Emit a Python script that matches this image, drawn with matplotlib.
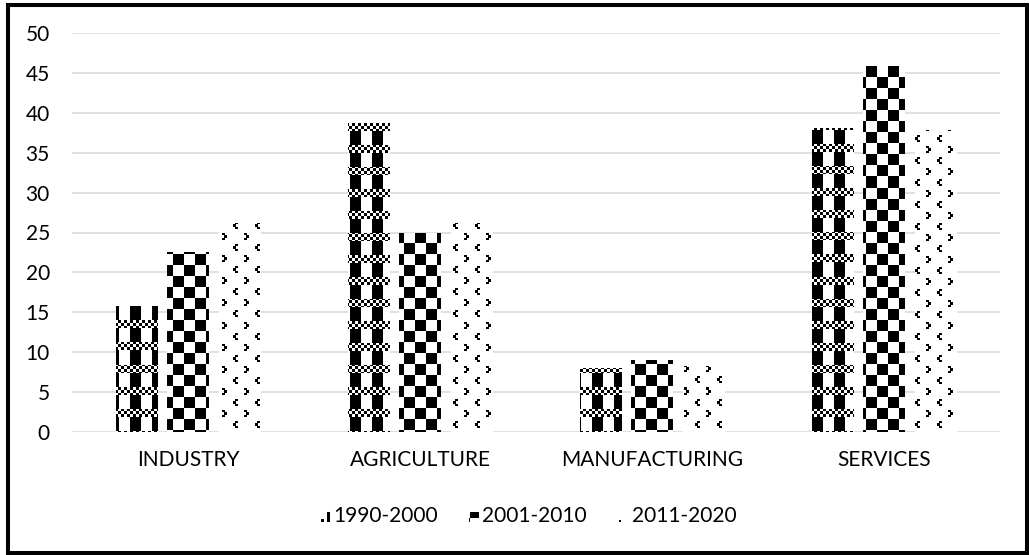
import numpy as np
import matplotlib
matplotlib.use('Agg')
import matplotlib.pyplot as plt
from matplotlib.patches import Rectangle

categories = ['INDUSTRY', 'AGRICULTURE', 'MANUFACTURING', 'SERVICES']
periods = ['1990-2000', '2001-2010', '2011-2020']
v1990 = [15.8, 38.7, 8.0, 38.1]
v2001 = [22.5, 25.0, 9.0, 45.9]
v2011 = [26.2, 26.2, 8.3, 37.8]
yticks = list(range(0, 55, 5))

W, H = 1029, 555
AX_L, AX_B, AX_W, AX_H = 72, 123, 928, 399
FS = 15

plt.rcParams['font.family'] = ['Lato', 'DejaVu Sans']
fig = plt.figure(figsize=(W / 100, H / 100), dpi=100)
ax = fig.add_axes([AX_L / W, AX_B / H, AX_W / W, AX_H / H])


# pixel fill patterns, r/c are figure pixel rows (from top) and columns
def pat_blocks(r, c):
    fine = ((r // 3) + (c // 3)) % 2 == 0
    return np.where((r - 13) % 22 < 8, fine, (c - 19) % 22 < 11)


def pat_checker(r, c):
    return (((r - 1) // 11) + ((c - 8) // 11)) % 2 == 0


def arrow(rr, cc, r0, c0, left):
    # small 5x7 arrowhead, pointing left or right
    dr, dc = rr - r0, cc - c0
    tip = (dr >= 2) & (dr < 5)
    arms = ((dr >= 0) & (dr < 2)) | ((dr >= 5) & (dr < 7))
    if left:
        return (tip & (dc >= 0) & (dc < 3)) | (arms & (dc >= 2) & (dc < 5))
    return (tip & (dc >= 2) & (dc < 5)) | (arms & (dc >= 0) & (dc < 3))


def pat_chevron(r, c):
    rr, cc = (r - 3) % 22, (c - 13) % 22
    return arrow(rr, cc, 0, 0, True) | arrow(rr, cc, 11, 11, False)


def texture(fn, rows, cols):
    r, c = np.mgrid[rows[0]:rows[1], cols[0]:cols[1]]
    on = fn(r, c)
    return np.where(on[..., None], 0.0, 1.0) * np.ones(3)


patterns = [pat_blocks, pat_checker, pat_chevron]
series = [v1990, v2001, v2011]

x = np.arange(len(categories))
width = 0.177
step = 0.224
ax_rows = (H - AX_B - AX_H, H - AX_B)
ax_cols = (AX_L, AX_L + AX_W)

for i, (vals, fn) in enumerate(zip(series, patterns)):
    bars = ax.bar(x + (i - 1) * step, vals, width, color='white', linewidth=0, zorder=2)
    tex = texture(fn, ax_rows, ax_cols)
    for b in bars:
        im = ax.imshow(tex, extent=(-0.5, 3.5, 0, 50), aspect='auto',
                       interpolation='nearest', zorder=3)
        im.set_clip_path(b)

ax.set_xlim(-0.5, 3.5)
ax.set_ylim(0, 50)
ax.set_yticks(yticks)
ax.set_xticks(x, categories)
ax.yaxis.grid(True, color='#d9d9d9', linewidth=1.1)
ax.set_axisbelow(True)
for s in ax.spines.values():
    s.set_visible(False)
ax.tick_params(length=0, labelsize=FS, colors='black')
ax.tick_params(axis='y', pad=16)
ax.tick_params(axis='x', pad=13)

# legend: small pattern swatch + label
leg_x = [333, 482, 632]
base_y = 522
for lx, fn, label in zip(leg_x, patterns, periods):
    sw = texture(fn, (base_y - 10, base_y), (lx - 13, lx - 3))
    fig.figimage(sw, xo=lx - 13, yo=H - base_y, origin='upper', zorder=5)
    fig.text(lx / W, (H - base_y) / H, label, fontsize=FS, color='black',
             ha='left', va='baseline')

fig.add_artist(Rectangle((7.5 / W, 2.5 / H), 1019 / W, 548 / H, transform=fig.transFigure,
                         fill=False, edgecolor='black', linewidth=2.9))

fig.savefig('out.png', dpi=100)
